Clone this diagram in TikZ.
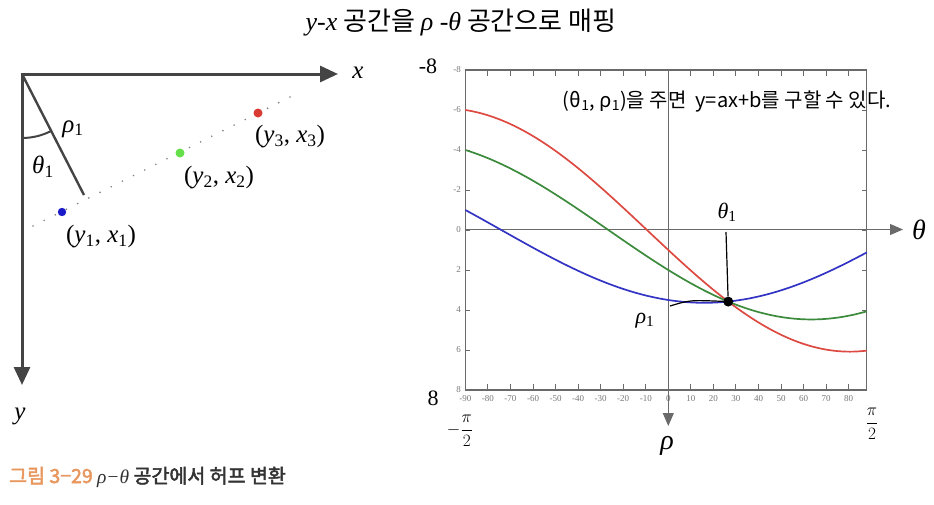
\documentclass[tikz,border=0pt]{standalone}
\usepackage{fontspec}
\setmainfont{Liberation Serif}
\newfontfamily\kr[AutoFakeBold=2.5]{Noto Sans CJK KR}
\usetikzlibrary{arrows.meta}
\definecolor{axgray}{HTML}{444444}
\definecolor{framegray}{HTML}{6A6A6A}
\definecolor{tickgray}{HTML}{777777}
\definecolor{ptred}{HTML}{D93A32}
\definecolor{ptgreen}{HTML}{66E04A}
\definecolor{ptblue}{HTML}{1A1AC8}
\definecolor{cred}{HTML}{DD4A42}
\definecolor{cgreen}{HTML}{3C8A3C}
\definecolor{cblue}{HTML}{3434C4}
\definecolor{caporange}{HTML}{E8975E}
\definecolor{capdark}{HTML}{333333}
\newcommand\mysub[1]{\textsubscript{\upshape #1}}
\begin{document}
\begin{tikzpicture}[x=1pt,y=-1pt,
  lbl/.style={inner sep=0pt,font=\fontsize{25}{29}\selectfont},
  ticklab/.style={inner sep=0pt,text=tickgray,font=\fontsize{9}{10}\selectfont},
  hand/.style={inner sep=0pt,font=\fontsize{22}{26}\selectfont},
  frac/.style={inner sep=0pt,font=\fontsize{18}{22}\selectfont},
  paxis/.style={line width=1pt,color=framegray,-{Triangle[length=13pt,width=11pt]}},
  curve/.style={line width=1.7pt,smooth},
  tickmark/.style={line width=1pt,color=framegray}]
\useasboundingbox (0,0) rectangle (934,504);

% title
\node[inner sep=0pt] (title) at (461,23) {\fontsize{26}{30}\selectfont\itshape y-x\upshape\kr\ 공간을 \rmfamily\itshape ρ -θ\upshape\kr\ 공간으로 매핑};

% ----- left diagram -----
\coordinate (O) at (22,74);
\coordinate (xend) at (338,74);
\coordinate (yend) at (22,385);
\draw[line width=3pt,axgray,line join=miter,{Triangle[length=18pt,width=16pt]}-{Triangle[length=18pt,width=16pt]}] (xend) -- (O) -- (yend);
\node[lbl] (xl) at (358,73) {\itshape x};
\node[lbl] (yl) at (20,416) {\itshape y};
\coordinate (P) at (84,195);
\draw[line width=2.4pt,axgray] (O) -- (P);
\draw[line width=2pt,axgray] (O) ++(62.9:64) arc[start angle=62.9,end angle=90,radius=64];
\node[lbl] (rho1) at (73,129) {\itshape ρ\mysub{1}};
\node[lbl] (th1l) at (43,167) {\itshape θ\mysub{1}};
\coordinate (d1) at (33,226);
\coordinate (d2) at (298,93);
\draw[line width=1.8pt,gray,line cap=round,dash pattern=on 0pt off 12.5pt] (d1) -- (d2);
\fill[ptblue] (62,212) circle (4.2);
\fill[ptgreen] (180,153) circle (4.5);
\fill[ptred] (258,113) circle (4.5);
\node[lbl] (p1) at (101,237) {(\textit{y}\mysub{1}, \textit{x}\mysub{1})};
\node[lbl] (p2) at (219,178) {(\textit{y}\mysub{2}, \textit{x}\mysub{2})};
\node[lbl] (p3) at (290,137) {(\textit{y}\mysub{3}, \textit{x}\mysub{3})};

% ----- right plot -----
\node[inner sep=0pt,font=\kr\fontsize{20}{24}\selectfont] (note) at (727,101) {(θ\mysub{1}, ρ\mysub{1})을 주면 \ y=ax+b를 구할 수 있다.};
\draw[line width=1.3pt,framegray] (465.3,70) rectangle (866.7,390);
\foreach \t in {-80,-70,...,80} {
  \draw[tickmark] ({668.3+2.255*\t},390) -- ++(0,-6);
  \draw[tickmark] ({668.3+2.255*\t},70) -- ++(0,6);
}
\foreach \t in {-90,-80,...,80} {
  \node[ticklab] (bl\t) at ({668.3+2.255*\t},399) {\t};
}
\foreach \v in {-6,-4,...,6} {
  \draw[tickmark] (465.3,{230+20*\v}) -- ++(5,0);
  \draw[tickmark] (866.7,{230+20*\v}) -- ++(-5,0);
}
\foreach \v in {-8,-6,...,8} {
  \node[ticklab,anchor=east] (ll\v) at (461,{230+20*\v}) {\v};
}
\draw[paxis] (465.3,229.5) -- (903,229.5);
\draw[paxis] (668.3,70) -- (668.3,426);
\node[lbl] (thl) at (919,230) {\fontsize{28}{30}\selectfont\itshape θ};
\node[lbl] (rhol) at (667,446) {\fontsize{28}{30}\selectfont\itshape ρ};

\draw[curve,cred] plot[domain=-90:88,samples=120] ({668.3+2.255*\x},{230+20*(cos(\x)+6*sin(\x))});
\draw[curve,cgreen] plot[domain=-90:88,samples=120] ({668.3+2.255*\x},{230+20*(2*cos(\x)+4*sin(\x))});
\draw[curve,cblue] plot[domain=-90:88,samples=120] ({668.3+2.255*\x},{230+20*(3.5*cos(\x)+sin(\x))});

\node[circle,fill=black,inner sep=0pt,minimum size=10pt] (dot) at ({668.3+2.255*26.565},{230+20*3.578}) {};
\node[hand] (th1h) at (727,212) {\itshape θ\mysub{1}};
\coordinate (thline) at (726,232);
\draw[line width=1.2pt] (thline) -- (dot);
\node[hand] (r1h) at (645,321) {\itshape ρ\mysub{1}};
\coordinate (rline) at (670,306);
\draw[line width=1.2pt] (rline) .. controls (690,300) .. (dot);

\node[hand] (m8) at (428,66) {-8};
\node[hand] (p8) at (433,398) {8};
\node[frac] (mpi) at (460,431) {$\displaystyle-\frac{\pi}{2}$};
\node[frac] (ppi) at (872,424) {$\displaystyle\frac{\pi}{2}$};

% caption
\node[anchor=west,inner sep=0pt,font=\kr\bfseries\fontsize{19.5}{22}\selectfont] (cap) at (9,477) {\color{caporange}그림 3−29 \color{capdark}\rmfamily\mdseries\itshape ρ−θ\kr\bfseries\upshape\ 공간에서 허프 변환};
\end{tikzpicture}
\end{document}
